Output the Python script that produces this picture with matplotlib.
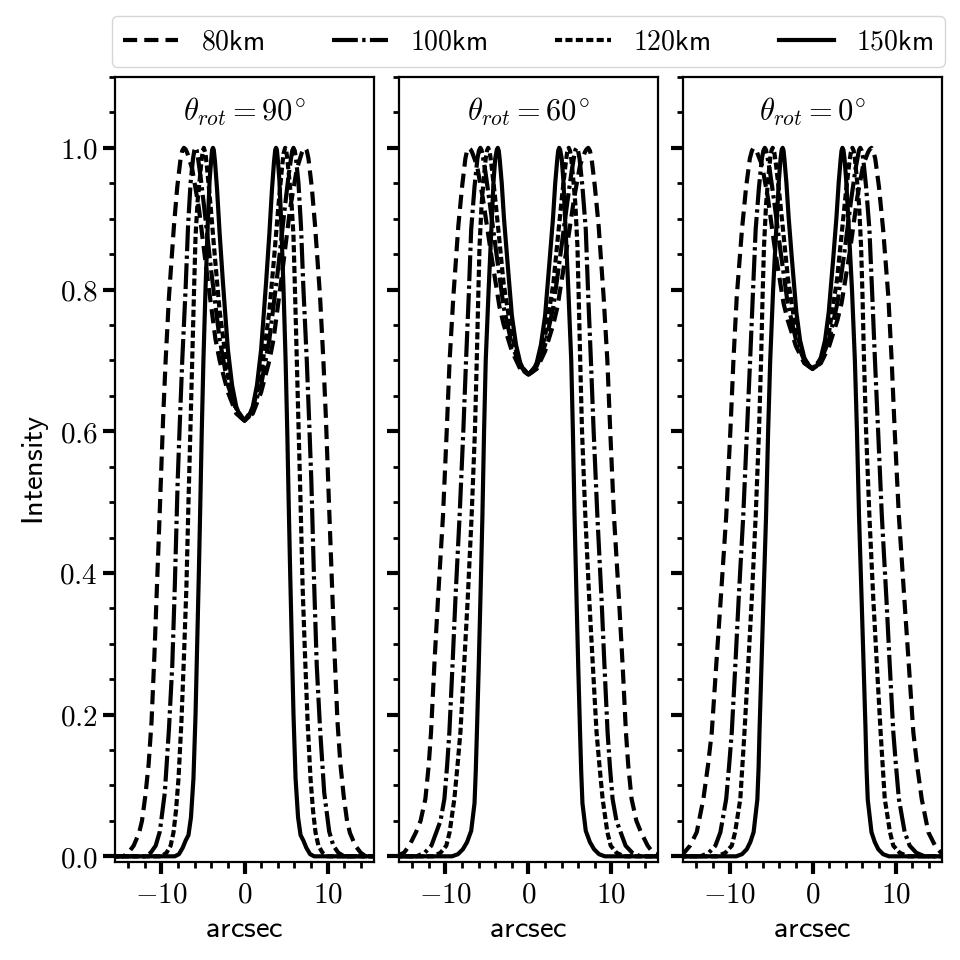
import numpy as np
import matplotlib
matplotlib.use('Agg')
import matplotlib.pyplot as plt
from matplotlib.ticker import MultipleLocator, FuncFormatter

plt.rcParams['mathtext.fontset'] = 'cm'
plt.rcParams['axes.linewidth'] = 1.6

## data: half profiles for x >= 0 (the profiles are symmetric about x = 0)
heights = ['80km', '100km', '120km', '150km']
angles = ['90', '60', '0']

# theta_rot = 90
x90_80 = [0, 1, 2, 3, 3.5, 4.5, 5.5, 6.3, 6.9, 7.1, 7.3, 7.5, 7.7, 8.1, 8.5, 9.1, 9.5, 9.8, 10.2, 10.55, 10.85, 11.2,
          11.55, 11.95, 12.35, 12.7, 13.35, 14.0, 14.6, 16]
y90_80 = [0.615, 0.625, 0.655, 0.70, 0.73, 0.82, 0.915, 0.97, 0.993, 0.998, 1.0, 0.996, 0.985, 0.945, 0.89, 0.79, 0.70, 0.62, 0.49, 0.38, 0.285, 0.19,
          0.13, 0.085, 0.05, 0.033, 0.015, 0.005, 0.0, 0.0]
x90_100 = [0, 1, 2, 3, 4, 4.8, 5.3, 5.6, 5.75, 5.9, 6.05, 6.2, 6.5, 6.8, 7.1, 7.5, 7.8, 8.05, 8.4, 8.7, 9.1,
           9.6, 10.2, 10.7, 11.3, 12.0, 16]
y90_100 = [0.615, 0.63, 0.665, 0.73, 0.825, 0.91, 0.96, 0.985, 0.996, 1.0, 0.996, 0.985, 0.95, 0.89, 0.80, 0.70, 0.61, 0.53, 0.38, 0.27, 0.18,
           0.09, 0.035, 0.015, 0.005, 0.0, 0.0]
x90_120 = [0, 1, 2, 3, 3.6, 4.1, 4.5, 4.7, 4.9, 5.02, 5.15, 5.4, 5.65, 5.9, 6.1, 6.3, 6.5, 6.75, 7.0, 7.3,
           7.6, 7.95, 8.25, 8.55, 8.9, 9.4, 10.0, 16]
y90_120 = [0.615, 0.632, 0.68, 0.77, 0.85, 0.92, 0.97, 0.992, 1.0, 0.996, 0.985, 0.955, 0.925, 0.875, 0.79, 0.70, 0.61, 0.50, 0.38, 0.28,
           0.19, 0.11, 0.065, 0.034, 0.015, 0.005, 0.0, 0.0]
x90_150 = [0, 0.5, 1, 1.5, 2, 2.6, 3.0, 3.3, 3.55, 3.7, 3.8, 3.9, 4.0, 4.2, 4.42, 4.7, 4.95, 5.15, 5.32, 5.5, 5.7, 5.9,
           6.15, 6.45, 6.75, 7.1, 7.45, 7.9, 8.4, 16]
y90_150 = [0.615, 0.62, 0.635, 0.665, 0.715, 0.81, 0.88, 0.94, 0.98, 0.997, 1.0, 0.997, 0.985, 0.955, 0.895, 0.80, 0.70, 0.60, 0.50, 0.40, 0.30, 0.20,
           0.11, 0.055, 0.03, 0.022, 0.012, 0.003, 0.0, 0.0]

# theta_rot = 60
x60_80 = [0, 1, 2, 3, 3.5, 4.5, 5.5, 6.2, 6.8, 7.0, 7.2, 7.4, 7.6, 8.0, 8.45, 9.05, 9.5, 9.85, 10.3, 10.9, 11.34, 11.74,
          12.02, 12.42, 13.0, 13.55, 14.36, 15.0, 16]
y60_80 = [0.68, 0.688, 0.713, 0.751, 0.776, 0.85, 0.929, 0.975, 0.994, 0.998, 1.0, 0.996, 0.985, 0.945, 0.89, 0.79, 0.70, 0.60, 0.48, 0.363, 0.27, 0.175,
          0.128, 0.081, 0.05, 0.034, 0.015, 0.005, 0.0]
x60_100 = [0, 1, 2, 3, 3.9, 4.7, 5.2, 5.5, 5.65, 5.8, 5.97, 6.15, 6.5, 6.9, 7.2, 7.52, 7.85, 8.3, 8.8, 9.15, 9.53,
           9.8, 10.13, 10.6, 11.1, 11.7, 12.5, 13.5, 16]
y60_100 = [0.68, 0.692, 0.722, 0.776, 0.854, 0.925, 0.967, 0.988, 0.997, 1.0, 0.996, 0.985, 0.945, 0.885, 0.79, 0.70, 0.60, 0.48, 0.363, 0.27, 0.175,
           0.128, 0.081, 0.05, 0.034, 0.015, 0.005, 0.0, 0.0]
x60_120 = [0, 1, 2, 3, 3.55, 4.05, 4.45, 4.65, 4.85, 5.0, 5.15, 5.4, 5.65, 5.9, 6.05, 6.23, 6.45, 6.85, 7.32, 7.75,
           8.2, 8.55, 8.93, 9.5, 9.9, 10.6, 11.5, 16]
y60_120 = [0.68, 0.694, 0.734, 0.809, 0.875, 0.933, 0.975, 0.993, 1.0, 0.996, 0.985, 0.955, 0.92, 0.86, 0.79, 0.70, 0.60, 0.48, 0.363, 0.27,
           0.175, 0.128, 0.081, 0.034, 0.015, 0.005, 0.0, 0.0]
x60_150 = [0, 0.5, 1, 1.5, 2, 2.55, 2.95, 3.22, 3.46, 3.58, 3.7, 3.82, 4.0, 4.2, 4.45, 4.8, 5.15, 5.35, 5.55, 5.79, 6.0, 6.2,
           6.35, 6.5, 6.9, 7.4, 7.9, 8.5, 9.2, 16]
y60_150 = [0.68, 0.684, 0.697, 0.722, 0.763, 0.842, 0.9, 0.95, 0.983, 0.996, 1.0, 0.997, 0.985, 0.955, 0.89, 0.80, 0.70, 0.60, 0.48, 0.363, 0.265, 0.18,
           0.12, 0.075, 0.036, 0.02, 0.01, 0.003, 0.0, 0.0]

# theta_rot = 0
x0_80 = [0, 1, 2, 3, 3.5, 4.5, 5.4, 6.1, 6.7, 6.9, 7.1, 7.3, 7.55, 8.0, 8.5, 9.13, 9.53, 9.9, 10.4, 11.06, 11.6, 12.14,
         12.6, 13.15, 13.95, 14.76, 15.4, 16]
y0_80 = [0.688, 0.696, 0.72, 0.757, 0.781, 0.854, 0.931, 0.976, 0.994, 0.998, 1.0, 0.996, 0.985, 0.945, 0.885, 0.79, 0.70, 0.60, 0.48, 0.363, 0.27, 0.175,
         0.128, 0.081, 0.034, 0.015, 0.006, 0.003]
x0_100 = [0, 1, 2, 3, 3.9, 4.65, 5.15, 5.45, 5.6, 5.75, 5.92, 6.1, 6.45, 6.85, 7.2, 7.52, 7.9, 8.35, 8.9, 9.3, 9.73,
          10.05, 10.4, 11.1, 11.7, 12.5, 13.5, 16]
y0_100 = [0.688, 0.7, 0.729, 0.781, 0.858, 0.927, 0.968, 0.988, 0.997, 1.0, 0.996, 0.985, 0.945, 0.885, 0.79, 0.70, 0.60, 0.48, 0.363, 0.27, 0.175,
          0.128, 0.081, 0.034, 0.015, 0.005, 0.0, 0.0]
x0_120 = [0, 1, 2, 2.95, 3.5, 4.0, 4.4, 4.6, 4.8, 4.95, 5.1, 5.35, 5.6, 5.85, 6.02, 6.2, 6.45, 6.85, 7.32, 7.75,
          8.2, 8.45, 8.7, 9.33, 9.73, 10.5, 11.5, 16]
y0_120 = [0.688, 0.702, 0.741, 0.814, 0.878, 0.935, 0.976, 0.993, 1.0, 0.996, 0.985, 0.955, 0.92, 0.86, 0.79, 0.70, 0.60, 0.48, 0.363, 0.27,
          0.175, 0.128, 0.081, 0.034, 0.015, 0.005, 0.0, 0.0]
x0_150 = [0, 0.5, 1, 1.5, 1.95, 2.5, 2.88, 3.15, 3.38, 3.49, 3.6, 3.72, 3.85, 4.05, 4.35, 4.75, 5.1, 5.35, 5.6, 5.91, 6.15, 6.38,
          6.5, 6.65, 7.1, 7.5, 7.92, 8.5, 9.2, 16]
y0_150 = [0.688, 0.692, 0.704, 0.728, 0.768, 0.845, 0.902, 0.951, 0.983, 0.996, 1.0, 0.997, 0.985, 0.955, 0.89, 0.80, 0.70, 0.60, 0.48, 0.363, 0.27, 0.18,
          0.125, 0.08, 0.034, 0.02, 0.01, 0.003, 0.0, 0.0]

profiles = {
    '90': [(x90_80, y90_80), (x90_100, y90_100), (x90_120, y90_120), (x90_150, y90_150)],
    '60': [(x60_80, y60_80), (x60_100, y60_100), (x60_120, y60_120), (x60_150, y60_150)],
    '0': [(x0_80, y0_80), (x0_100, y0_100), (x0_120, y0_120), (x0_150, y0_150)],
}

## line styles (dash patterns in units of line width)
styles = [(0, (3.4, 1.7)),              # 80km dashed
          (0, (6.2, 1.05, 0.8, 1.05)),  # 100km dash-dot
          (0, (1.7, 0.8)),              # 120km dotted
          '-']                          # 150km solid

fig = plt.figure(figsize=(9.6, 9.6), dpi=100)
lefts = [0.1198, 0.4156, 0.7115]

for i, ang in enumerate(angles):
    ax = fig.add_axes([lefts[i], 0.1021, 0.2698, 0.8177])
    for (xh, yh), ls, lab in zip(profiles[ang], styles, heights):
        xh = np.array(xh)
        yh = np.array(yh)
        # mirror the half profile
        x = np.concatenate([-xh[::-1], xh[1:]])
        y = np.concatenate([yh[::-1], yh[1:]])
        ax.plot(x, y, color='k', linestyle=ls, linewidth=3.0, label=r'$\mathsf{%s}$' % lab)

    ax.set_xlim(-15.6, 15.6)
    ax.set_ylim(-0.008, 1.1)
    ax.xaxis.set_major_locator(MultipleLocator(10))
    ax.xaxis.set_minor_locator(MultipleLocator(2))
    ax.yaxis.set_major_locator(MultipleLocator(0.2))
    ax.yaxis.set_minor_locator(MultipleLocator(0.05))
    ax.xaxis.set_major_formatter(FuncFormatter(lambda v, p: r'$%g$' % v))
    ax.yaxis.set_major_formatter(FuncFormatter(lambda v, p: r'$%.1f$' % v))
    ax.tick_params(which='major', direction='out', length=8.5, width=3.0, labelsize=21, pad=4)
    ax.tick_params(which='minor', direction='out', length=4.3, width=2.0)
    ax.tick_params(axis='x', which='major', pad=5)
    ax.set_xlabel(r'$\mathsf{arcsec}$', fontsize=22, labelpad=4)
    if i == 0:
        ax.set_ylabel(r'$\mathsf{Intensity}$', fontsize=22, labelpad=6)
    else:
        ax.tick_params(axis='y', labelleft=False)
    ax.text(0.5, 0.955, r'$\theta_{rot} = %s^{\!\circ}$' % ang, transform=ax.transAxes,
            ha='center', va='center', fontsize=22)
    if i == 0:
        handles, labels = ax.get_legend_handles_labels()

fig.legend(handles, labels, loc='lower left', ncol=4, mode='expand', fontsize=20,
           bbox_to_anchor=(0.1164, 0.9306, 0.8676, 0.0536), bbox_transform=fig.transFigure,
           borderaxespad=0.0, handlelength=2.0)

plt.savefig('out.png', dpi=100)
